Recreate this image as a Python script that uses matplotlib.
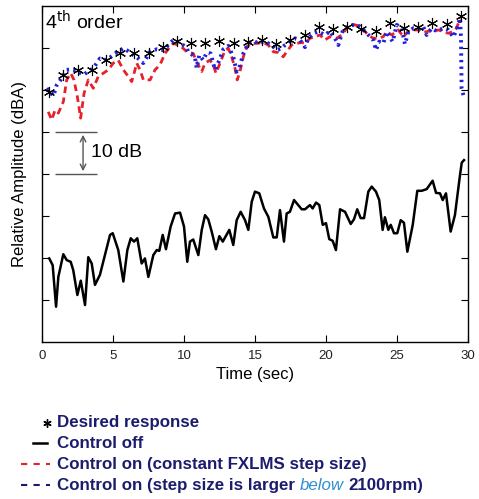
import matplotlib
matplotlib.use("Agg")
import matplotlib.pyplot as plt
from matplotlib.lines import Line2D

plt.rcParams['font.family'] = ['Liberation Sans', 'DejaVu Sans']

# desired response (asterisks), one per second
t_des = [0.5, 1.5, 2.5, 3.5, 4.5, 5.5, 6.5, 7.5, 8.5, 9.5,
         10.5, 11.5, 12.5, 13.5, 14.5, 15.5, 16.5, 17.5, 18.5, 19.5,
         20.5, 21.5, 22.5, 23.5, 24.5, 25.5, 26.5, 27.5, 28.5, 29.5]
db_des = [59.6, 63.6, 64.8, 64.8, 67.1, 68.7, 68.7, 68.7, 70.3, 71.7,
          71.3, 71.1, 71.7, 71.3, 71.5, 71.9, 70.9, 71.9, 73.1, 75.1,
          74.5, 75.1, 74.5, 74.1, 76.0, 74.7, 75.0, 76.0, 75.6, 77.6]

# control off
t_off = [0.51, 0.75, 0.99, 1.15, 1.50, 1.74, 2.02, 2.20, 2.49, 2.73, 3.03, 3.26, 3.50, 3.73, 4.08,
         4.79, 4.98, 5.37, 5.73, 6.01, 6.25, 6.48, 6.71, 7.02, 7.25, 7.49, 7.84, 8.08, 8.26, 8.50,
         8.73, 9.06, 9.37, 9.72, 10.0, 10.23, 10.42, 10.65, 11.01, 11.25, 11.48, 11.71, 11.95, 12.25,
         12.49, 12.73, 13.19, 13.47, 13.71, 13.99, 14.30, 14.53, 14.77, 15.0, 15.30, 15.63, 15.94,
         16.29, 16.53, 16.76, 17.04, 17.23, 17.46, 17.75, 18.29, 18.52, 18.87, 19.06, 19.30, 19.53,
         19.77, 20.0, 20.23, 20.47, 20.70, 20.99, 21.34, 21.74, 21.97, 22.20, 22.44, 22.68, 22.98,
         23.22, 23.52, 23.75, 23.99, 24.15, 24.39, 24.56, 24.79, 25.02, 25.26, 25.49, 25.73, 26.11,
         26.43, 26.74, 27.09, 27.51, 27.75, 28.03, 28.22, 28.45, 28.78, 29.08, 29.44, 29.56, 29.72]
db_off = [19.9, 18.3, 8.4, 15.5, 20.9, 19.5, 19.1, 17.1, 11.2, 14.6, 8.8, 20.2, 18.7, 13.6, 16.0,
          25.5, 25.9, 21.9, 14.4, 21.9, 24.7, 23.9, 24.7, 18.7, 19.9, 15.5, 20.7, 21.9, 21.7, 25.5,
          22.1, 27.5, 30.6, 30.8, 27.5, 19.1, 23.9, 24.4, 20.7, 26.7, 30.2, 29.2, 26.3, 22.1,
          25.2, 23.9, 26.7, 23.1, 29.0, 31.0, 29.0, 26.7, 33.4, 35.8, 35.4, 31.8, 29.8,
          24.9, 24.9, 31.4, 23.9, 30.6, 31.0, 33.8, 31.6, 31.6, 32.6, 31.8, 33.2, 32.6,
          27.9, 28.3, 24.5, 24.1, 21.9, 31.6, 31.0, 28.1, 29.2, 31.6, 29.5, 29.5, 35.8,
          37.0, 35.8, 33.8, 26.7, 29.7, 26.7, 27.9, 25.9, 25.9, 29.0, 28.4, 21.5, 27.9,
          36.0, 36.0, 36.4, 38.4, 35.5, 35.4, 33.8, 35.4, 26.3, 30.2, 39.8, 42.7, 43.3]

# control on, constant FXLMS step size
t_red = [0.44, 0.68, 0.92, 1.15, 1.50, 1.74, 2.02, 2.25, 2.49, 2.72, 2.96, 3.26, 3.61, 3.96, 4.32,
         4.67, 5.02, 5.37, 5.73, 6.08, 6.32, 6.55, 6.67, 6.90, 7.14, 7.61, 7.96, 8.31, 8.66, 9.01,
         9.25, 9.60, 9.95, 10.19, 10.65, 10.89, 11.25, 11.48, 11.83, 12.06, 12.25, 12.54, 12.89,
         13.12, 13.36, 13.59, 13.75, 13.94, 14.18, 14.42, 14.77, 15.12, 15.58, 15.94, 16.29, 16.64,
         16.99, 17.23, 17.58, 17.94, 18.29, 18.52, 18.87, 19.23, 19.58, 19.93, 20.28, 20.75, 21.11,
         21.46, 21.92, 22.28, 22.63, 22.98, 23.33, 23.68, 24.04, 24.27, 24.63, 25.09, 25.44, 25.80,
         26.15, 26.50, 26.85, 27.21, 27.56, 27.91, 28.26, 28.61, 28.96, 29.20, 29.44]
db_red = [54.8, 52.9, 55.2, 54.5, 57.2, 62.4, 64.0, 62.4, 58.4, 53.3, 59.2, 62.4, 60.4, 63.2, 64.0,
          64.8, 66.4, 67.1, 64.8, 63.2, 62.0, 64.8, 66.4, 64.8, 62.4, 62.4, 64.8, 66.0, 68.7, 70.3,
          71.1, 70.7, 69.9, 69.1, 68.7, 66.7, 64.4, 66.4, 67.1, 66.0, 64.0, 66.4, 69.5,
          69.9, 67.9, 65.2, 62.4, 64.4, 67.9, 70.3, 71.1, 71.1, 71.3, 70.7, 69.1, 68.9,
          67.9, 69.1, 70.7, 71.1, 71.3, 71.1, 72.3, 72.7, 73.1, 71.9, 72.7, 72.3, 73.1,
          74.7, 75.6, 75.3, 74.3, 73.1, 72.3, 72.3, 72.7, 73.9, 73.1, 74.3, 72.7, 73.9,
          74.3, 74.3, 73.7, 74.0, 73.9, 74.3, 73.9, 73.5, 73.9, 74.7, 77.1]

# control on, larger step size below 2100rpm
t_blue = [0.33, 0.80, 1.04, 1.39, 1.74, 2.09, 2.44, 2.91, 3.26, 3.61, 4.08, 4.56, 5.14, 5.73, 5.96,
          6.43, 6.78, 7.13, 7.61, 8.08, 8.54, 8.78, 9.25, 9.72, 10.19, 10.30, 10.77, 10.89, 11.08,
          11.36, 11.60, 11.88, 12.18, 12.49, 12.77, 13.12, 13.47, 13.71, 13.89, 14.18, 14.53, 14.88,
          15.23, 15.58, 15.94, 16.29, 16.53, 16.88, 17.11, 17.46, 17.82, 18.17, 18.52, 18.75, 19.11,
          19.46, 19.93, 20.28, 20.63, 20.87, 21.22, 21.69, 22.04, 22.39, 22.75, 23.10, 23.33, 23.52,
          23.75, 24.04, 24.27, 24.70, 24.98, 25.33, 25.56, 25.80, 26.15, 26.50, 26.85, 27.09, 27.44,
          27.80, 28.26, 28.61, 28.96, 29.20, 29.44, 29.51, 29.55, 29.74]
db_blue = [60.4, 58.6, 61.2, 62.8, 64.8, 64.9, 64.6, 63.6, 64.4, 65.2, 67.5, 67.1, 68.7, 69.9, 69.5,
           68.3, 67.5, 66.4, 69.1, 69.7, 69.5, 70.3, 71.9, 71.3, 70.0, 69.1, 67.9, 65.2, 68.3,
           67.1, 68.9, 68.7, 64.8, 67.1, 69.7, 70.5, 67.9, 64.4, 65.2, 68.7, 71.1, 71.7,
           71.1, 71.5, 71.1, 70.3, 69.5, 69.9, 70.7, 71.5, 72.3, 71.9, 70.2, 72.3, 73.5,
           73.9, 73.1, 74.0, 72.3, 70.7, 74.5, 75.3, 75.6, 75.1, 73.9, 72.7, 71.9, 69.5,
           71.5, 71.1, 73.9, 71.5, 75.5, 74.7, 70.9, 73.9, 74.7, 74.5, 75.1, 73.1, 74.7,
           74.0, 74.7, 74.3, 72.6, 74.3, 77.1, 72.3, 60.4, 58.0]

x_ticks = [0, 5, 10, 15, 20, 25, 30]
y_ticks = [10, 20, 30, 40, 50, 60, 70]
scale_db = [40, 50]

fig = plt.figure(figsize=(4.79, 4.99), dpi=100)
ax = fig.add_axes([0.0877, 0.3146, 0.8893, 0.6734])

ax.plot(t_off, db_off, color='black', lw=1.8)
ax.plot(t_red, db_red, color='#e8202a', lw=2.0, ls=(0, (2.4, 1.6)))
ax.plot(t_blue, db_blue, color='#1f1fe0', lw=2.8, ls=(0, (0.6, 1.1)))
ax.plot(t_des, db_des, ls='none', marker=(6, 2, 0), ms=8, mew=0.8, color='black')

ax.set_xlim(0, 30)
ax.set_ylim(0, 80)
ax.set_xticks(x_ticks)
ax.set_yticks(y_ticks)
ax.set_yticklabels([])
ax.tick_params(direction='in', top=True, right=True, length=5, labelsize=9.5,
               labelcolor='#222222', pad=6)
for s in ax.spines.values():
    s.set_linewidth(1.0)

ax.set_xlabel('Time (sec)', fontsize=12, labelpad=3)
ax.set_ylabel('Relative Amplitude (dBA)', fontsize=12, labelpad=5)

ax.text(0.008, 0.988, r'4$^{\rm th}$ order', transform=ax.transAxes, fontsize=14,
        va='top', ha='left')

# 10 dB scale bar
ax.hlines(scale_db, 0.92, 3.87, color='#555555', lw=1)
ax.annotate('', xy=(2.89, scale_db[0]), xytext=(2.89, scale_db[1]),
            arrowprops=dict(arrowstyle='<->', color='#555555', lw=1))
ax.text(3.45, sum(scale_db) / 2, '10 dB', fontsize=14, va='center', ha='left')

# legend below the axes
navy = '#1c1c6e'
fs = 12.2
tx = 0.120
rows = [0.153, 0.112, 0.070, 0.028]
fig.add_artist(Line2D([0.0975], [rows[0]], ls='none', marker=(6, 2, 0), ms=6, mew=1,
                      color='black', transform=fig.transFigure))
fig.add_artist(Line2D([0.069, 0.098], [rows[1]] * 2, color='black', lw=1.8,
                      transform=fig.transFigure))
fig.add_artist(Line2D([0.043, 0.104], [rows[2]] * 2, color='#e8202a', lw=1.5,
                      ls=(0, (3, 3)), transform=fig.transFigure))
fig.add_artist(Line2D([0.043, 0.104], [rows[3]] * 2, color=navy, lw=1.5,
                      ls=(0, (3, 3)), transform=fig.transFigure))

fig.text(tx, rows[0], 'Desired response', color=navy, fontsize=fs, weight='bold', va='center')
fig.text(tx, rows[1], 'Control off', color=navy, fontsize=fs, weight='bold', va='center')
fig.text(tx, rows[2], 'Control on (constant FXLMS step size)', color=navy, fontsize=fs,
         weight='bold', va='center')
t1 = fig.text(tx, rows[3], 'Control on (step size is larger', color=navy, fontsize=fs,
              weight='bold', va='center')
t2 = ax.annotate('below', xy=(1, 0.5), xycoords=t1, xytext=(3.0, 0), textcoords='offset points',
                 color='#2f8fd0', fontsize=fs, style='italic', va='center', ha='left',
                 annotation_clip=False)
ax.annotate('2100rpm)', xy=(1, 0.5), xycoords=t2, xytext=(3.5, 0), textcoords='offset points',
            color=navy, fontsize=fs, weight='bold', va='center', ha='left',
            annotation_clip=False)

fig.savefig('out.png', dpi=100)
